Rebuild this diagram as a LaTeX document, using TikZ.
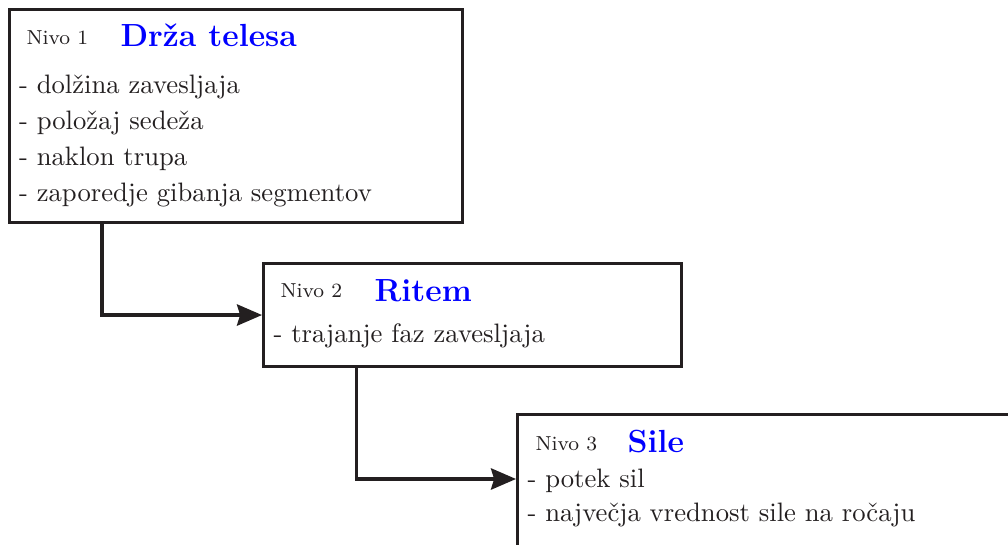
\documentclass[tikz,border=0pt]{standalone}
\usetikzlibrary{arrows.meta}
\definecolor{ink}{RGB}{35,31,32}
\definecolor{titleblue}{RGB}{0,0,255}
\tikzset{
  box/.style={draw=ink, line width=1.15pt, rectangle, inner sep=0pt, anchor=north west},
  conn/.style={draw=ink, line width=1.15pt, -{Stealth[length=9.4pt,width=8pt,inset=1.2pt]}},
  lvl/.style={anchor=base west, inner sep=0pt, text=ink, font=\fontsize{7.6}{9}\selectfont},
  ttl/.style={anchor=base west, inner sep=0pt, text=titleblue, font=\fontsize{12}{14}\selectfont\bfseries},
  item/.style={anchor=base west, inner sep=0pt, text=ink, font=\fontsize{10}{12}\selectfont},
}
\begin{document}
\begin{tikzpicture}[x=0.375pt, y=-0.375pt]
\useasboundingbox (0,0) rectangle (1008,545);
\clip (0,0) rectangle (1008,545);
% boxes
\node[box, minimum width=453*0.375pt, minimum height=213*0.375pt] (b1) at (8,8) {};
\node[box, minimum width=418*0.375pt, minimum height=103*0.375pt] (b2) at (262,262) {};
\node[box, minimum width=520*0.375pt, minimum height=150*0.375pt] (b3) at (516,413) {};
\coordinate (t3) at (516,479);
% box 1 text
\node[lvl] (n1) at (26,44.6) {Nivo 1};
\node[ttl] (h1) at (120,47) {Drža telesa};
\node[item] (i11) at (18.5,94) {- dolžina zavesljaja};
\node[item] (i12) at (18.5,130) {- položaj sedeža};
\node[item] (i13) at (18.5,166) {- naklon trupa};
\node[item] (i14) at (18.5,202) {- zaporedje gibanja segmentov};
% box 2 text
\node[lvl] (n2) at (280,298) {Nivo 2};
\node[ttl] (h2) at (374,301) {Ritem};
\node[item] (i21) at (273,343) {- trajanje faz zavesljaja};
% box 3 text
\node[lvl] (n3) at (535,450) {Nivo 3};
\node[ttl] (h3) at (627,452) {Sile};
\node[item] (i31) at (527,487) {- potek sil};
\node[item] (i32) at (527,521) {- največja vrednost sile na ročaju};
% connectors
\draw[conn] ([xshift=35.25pt]b1.south west) |- (b2.west);
\draw[conn] ([xshift=35.6pt]b2.south west) |- (t3);
\end{tikzpicture}
\end{document}
